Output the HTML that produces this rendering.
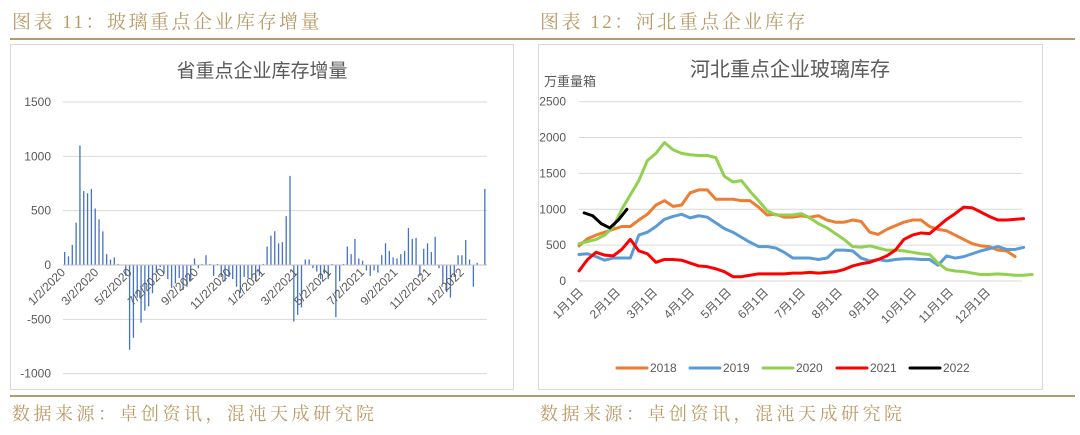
<!DOCTYPE html>
<html><head><meta charset="utf-8"><style>
body{margin:0;width:1080px;height:435px;background:#fff;overflow:hidden;font-family:"Liberation Sans","Noto Sans CJK SC",sans-serif;position:relative}
.hdr{position:absolute;top:7px;font-family:"Liberation Serif","Noto Serif CJK SC",serif;font-size:19px;color:#b89a66;letter-spacing:2.5px}
.ftr{position:absolute;top:400px;font-family:"Liberation Serif","Noto Serif CJK SC",serif;font-size:18px;color:#b89a66;letter-spacing:3.5px}
.line{position:absolute;left:10px;width:1065px;height:2px;background:#b89a66}
svg{position:absolute;left:0;top:0}
</style></head><body>
<div class="hdr" style="left:12px">图表 11：玻璃重点企业库存增量</div>
<div class="hdr" style="left:540px">图表 12：河北重点企业库存</div>
<div class="line" style="top:38px"></div>
<div class="line" style="top:395px"></div>
<div class="ftr" style="left:12px">数据来源：卓创资讯，混沌天成研究院</div>
<div class="ftr" style="left:540px">数据来源：卓创资讯，混沌天成研究院</div>
<svg id="svg" width="1080" height="435"></svg>
<script>
const barValues=[120,80,185,390,1100,680,660,700,520,420,310,100,50,70,10,0,-100,-780,-670,-300,-530,-420,-380,-260,-70,-20,-80,-130,-210,-170,-120,-230,-200,-140,60,-30,10,90,10,-100,10,-110,-150,-110,-130,-200,-260,-110,-120,-130,-150,-100,10,170,270,310,200,210,450,820,-520,-460,-390,50,50,-30,-60,-130,-80,-130,10,-480,-150,10,170,100,240,60,40,-50,-100,-50,-70,90,200,130,70,60,100,130,340,240,250,-100,150,200,120,260,-30,-170,-250,-300,-110,90,90,230,50,-200,20,0,700];
const leftTicks=[1500,1000,500,0,-500,-1000];
const leftDates=["1/2/2020","3/2/2020","5/2/2020","7/2/2020","9/2/2020","11/2/2020","1/2/2021","3/2/2021","5/2/2021","7/2/2021","9/2/2021","11/2/2021","1/2/2022"];
const months=["1月1日","2月1日","3月1日","4月1日","5月1日","6月1日","7月1日","8月1日","9月1日","10月1日","11月1日","12月1日"];
const rightTicks=[2500,2000,1500,1000,500,0];
const s2018=[490,590,640,680,720,760,760,850,930,1060,1120,1040,1060,1230,1270,1270,1140,1140,1140,1120,1120,1030,920,930,890,890,910,890,910,850,820,820,850,830,680,650,720,770,820,850,850,760,720,700,640,580,520,490,480,430,420,340];
const s2019=[370,380,340,290,320,320,320,640,680,760,860,900,930,880,910,890,810,730,680,610,540,480,480,460,400,320,320,320,300,320,430,430,420,320,280,300,280,300,310,310,300,300,220,350,320,340,380,420,450,480,440,440,470];
const s2020=[520,550,580,640,750,1000,1200,1400,1680,1780,1930,1830,1780,1760,1750,1750,1720,1460,1380,1400,1250,1120,980,920,920,920,940,880,800,740,660,580,480,470,490,460,430,430,420,400,380,370,250,160,140,130,110,90,90,100,90,80,80,90];
const s2021=[140,300,400,360,350,440,580,420,380,260,300,300,290,250,210,200,170,130,60,60,80,100,100,100,100,110,110,120,110,120,130,160,210,240,260,300,350,430,580,640,670,660,760,860,940,1030,1020,960,900,850,850,860,870];
const s2022=[950,910,800,740,850,1000];
const seriesNames=["2018","2019","2020","2021","2022"];
const seriesColors=["#ED7D31","#5B9BD5","#92D050","#FF0000","#000000"];

const NS="http://www.w3.org/2000/svg";
const svg=document.getElementById('svg');
function mk(t,a,txt){const e=document.createElementNS(NS,t);for(const k in a)e.setAttribute(k,a[k]);if(txt!==undefined)e.textContent=txt;svg.appendChild(e);return e;}

let p=mk('rect',{x:10.5,y:44.5,width:503,height:345,fill:'#fff',stroke:'#d9d9d9'});


p=mk('rect',{x:538.5,y:44.5,width:504,height:345,fill:'#fff',stroke:'#d9d9d9'});



// LEFT chart
const lx0=63,lx1=487;
const ly=v=>265-v*(163/1500);
const lx=i=>lx0+1+i*((lx1-lx0)/barValues.length);
let t=mk('text',{x:262,y:77,'text-anchor':'middle','font-size':19,fill:'#595959'},'省重点企业库存增量');


leftTicks.forEach(v=>{
 let g=mk('line',{x1:lx0,x2:lx1,y1:ly(v),y2:ly(v),stroke:'#d9d9d9'});
 
 
 let l=mk('text',{x:51,y:ly(v)+4,'text-anchor':'end','font-size':12,fill:'#595959'},String(v));
 
 
});
barValues.forEach((v,i)=>{
 const y=Math.min(ly(v),ly(0)),h=Math.abs(ly(v)-ly(0));
 let b=mk('rect',{x:lx(i),y:y,width:1.3,height:Math.max(h,0.5),fill:'#4472C4'});
 
 
});
let ax=mk('line',{x1:lx0,x2:lx1,y1:ly(0),y2:ly(0),stroke:'#bfbfbf'});


const lstep=(lx1-lx0)/barValues.length*8.7;
leftDates.forEach((d,i)=>{
 const x=lx0+i*lstep+3;
 let l=mk('text',{x:x,y:273,'text-anchor':'end','font-size':12,fill:'#595959',transform:`rotate(-45 ${x} 273)`},d);
 
 
});

// RIGHT chart
const rx0=579,rstep=8.55;
const ry=v=>281-v*(179.3/2500);
const rx=i=>rx0+i*rstep;
t=mk('text',{x:790,y:76,'text-anchor':'middle','font-size':20,fill:'#595959'},'河北重点企业玻璃库存');


t=mk('text',{x:544,y:86,'font-size':13,fill:'#595959'},'万重量箱');


rightTicks.forEach(v=>{
 let g=mk('line',{x1:579,x2:1022,y1:ry(v),y2:ry(v),stroke:'#d9d9d9'});
 
 
 let l=mk('text',{x:566,y:ry(v)+4,'text-anchor':'end','font-size':12,fill:'#595959'},String(v));
 
 
});
months.forEach((m,i)=>{
 const x=rx0+5+i*37;
 let l=mk('text',{x:x,y:293,'text-anchor':'end','font-size':12,fill:'#595959',transform:`rotate(-45 ${x} 293)`},m);
 
 
});
[s2018,s2019,s2020,s2021,s2022].forEach((s,k)=>{
 const off=k===4?0.6:0;
 let pl=mk('polyline',{points:s.map((v,i)=>rx(i+off)+','+ry(v)).join(' '),fill:'none',stroke:seriesColors[k],'stroke-width':3,'stroke-linejoin':'round','stroke-linecap':'round'});
 
 
});
const legX=[617,690,763,837,910];
seriesNames.forEach((n,k)=>{
 let l=mk('line',{x1:legX[k],x2:legX[k]+30,y1:368,y2:368,stroke:seriesColors[k],'stroke-width':3,'stroke-linecap':'round'});
 
 
 let tx=mk('text',{x:legX[k]+33,y:372,'font-size':12,fill:'#595959'},n);
 
 
});
</script>
</body></html>
